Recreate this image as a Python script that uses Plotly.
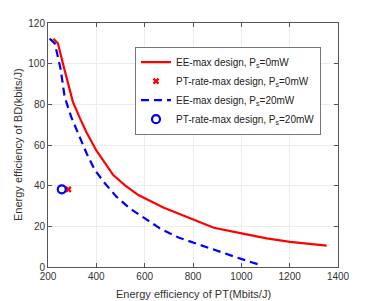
import plotly.graph_objects as go

ee_x_0 = [222, 241, 262, 303, 332, 358, 400, 435, 470, 520, 574, 677, 801, 830, 886, 1001, 1105, 1201, 1353]
ee_y_0 = [112.3, 110, 100, 81.2, 73.2, 66.5, 57.3, 51, 45.2, 40, 35.4, 29.3, 23.3, 21.8, 19.3, 16.5, 14.1, 12.4, 10.5]

ee_x_20 = [207, 228, 252, 269, 296, 338, 360, 394, 436, 484, 539, 601, 663, 740, 836, 912, 981, 1070]
ee_y_20 = [112.3, 110, 97.5, 83.6, 73.8, 61.5, 55.8, 47.6, 41.1, 34.5, 28.8, 23.9, 19, 14.5, 10.5, 7.5, 4.7, 1.3]

pt_x_0 = [284]
pt_y_0 = [38.2]
pt_x_20 = [257]
pt_y_20 = [38.2]

x_ticks = [200, 400, 600, 800, 1000, 1200, 1400]
y_ticks = [0, 20, 40, 60, 80, 100, 120]
x_title = "Energy efficiency of PT(Mbits/J)"
y_title = "Energy efficiency of BD(kbits/J)"

fig = go.Figure()
fig.add_trace(go.Scatter(x=ee_x_0, y=ee_y_0, mode="lines",
                         line=dict(color="#ff0000", width=2.2),
                         name="EE-max design, P<sub>s</sub>=0mW"))
fig.add_trace(go.Scatter(x=pt_x_0, y=pt_y_0, mode="markers",
                         marker=dict(symbol="x", color="#ff0000", size=6),
                         name="PT-rate-max design, P<sub>s</sub>=0mW"))
fig.add_trace(go.Scatter(x=ee_x_20, y=ee_y_20, mode="lines",
                         line=dict(color="#0000ff", width=2.2, dash="8px,5px"),
                         name="EE-max design, P<sub>s</sub>=20mW"))
fig.add_trace(go.Scatter(x=pt_x_20, y=pt_y_20, mode="markers",
                         marker=dict(symbol="circle-open", color="#0000ff", size=8,
                                     line=dict(width=2.2, color="#0000ff")),
                         name="PT-rate-max design, P<sub>s</sub>=20mW"))

axis_common = dict(showline=True, linecolor="#555555", linewidth=1, mirror="ticks",
                   ticks="inside", ticklen=4, tickcolor="#555555", automargin=False,
                   showgrid=True, gridcolor="#ebebeb", gridwidth=1, zeroline=False,
                   tickfont=dict(size=10, color="#333333"))

fig.update_layout(
    width=366, height=293,
    margin=dict(l=40, r=36, t=15, b=34, autoexpand=False),
    paper_bgcolor="white", plot_bgcolor="white",
    font=dict(family="Liberation Sans, Arial, sans-serif", size=10, color="#333333"),
    xaxis=dict(range=[200, 1400], tickvals=x_ticks, **axis_common),
    yaxis=dict(range=[0, 120], tickvals=y_ticks, **axis_common),
    legend=dict(x=0.30, y=0.903, xanchor="left", yanchor="top",
                bgcolor="white", bordercolor="#777777", borderwidth=1,
                font=dict(size=10, color="#222222"), itemwidth=30,
                tracegroupgap=0),
    showlegend=True,
    annotations=[
        dict(text=x_title, xref="paper", yref="paper", x=0.5, y=0,
             xanchor="center", yanchor="middle", yshift=-27, showarrow=False,
             font=dict(size=11, color="#333333")),
        dict(text=y_title, xref="paper", yref="paper", x=0, y=0.5,
             xanchor="center", yanchor="middle", xshift=-30, textangle=-90,
             showarrow=False, font=dict(size=11, color="#333333")),
    ],
)

fig.write_html("out.html")
